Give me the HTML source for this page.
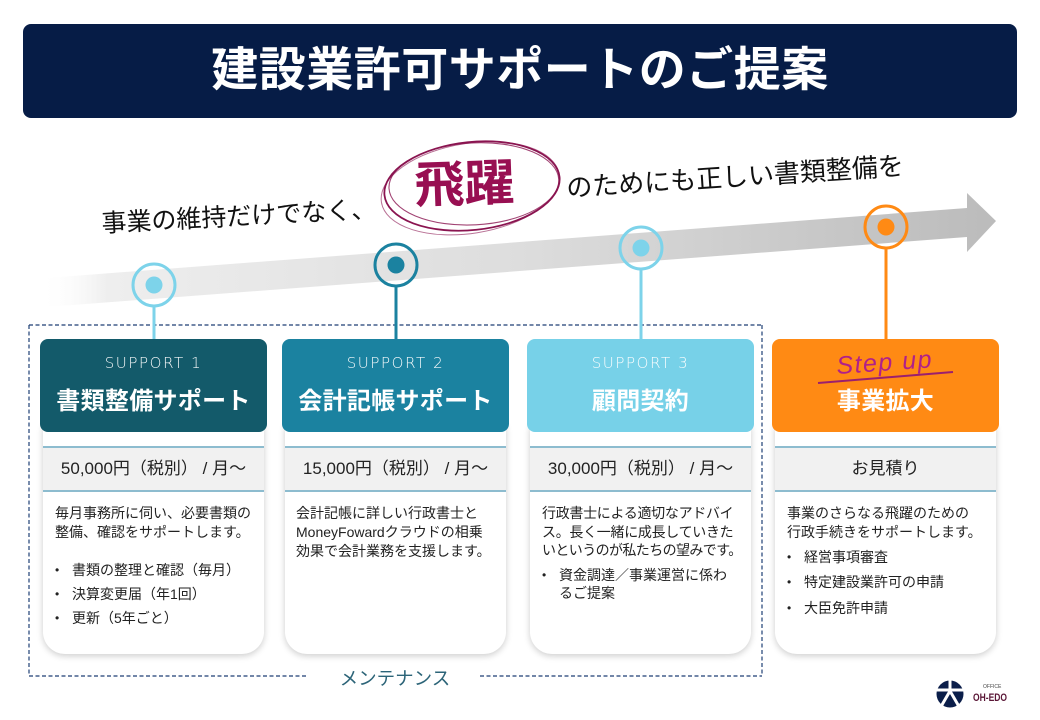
<!DOCTYPE html>
<html lang="ja">
<head>
<meta charset="utf-8">
<style>
  html,body{margin:0;padding:0;}
  body{width:1040px;height:720px;position:relative;overflow:hidden;background:#fff;
       font-family:"Liberation Sans","Noto Sans CJK JP",sans-serif;color:#222;}
  .abs{position:absolute;}
  .title{left:23px;top:24px;width:994px;height:94px;background:#061c46;border-radius:8px;
         color:#fff;font-weight:bold;font-size:47px;letter-spacing:0.5px;text-align:center;line-height:92px;}
  .body{position:absolute;top:425px;height:229px;background:#fff;border-radius:0 0 22px 22px;
        box-shadow:0 2px 7px rgba(0,0,0,0.20);}
  .band{position:absolute;left:0;right:0;top:21px;height:42px;background:#f1f1f1;
        border-top:2px solid #8dbccf;border-bottom:2px solid #8dbccf;
        font-size:17px;text-align:center;line-height:42px;color:#222;white-space:nowrap;}
  .head{position:absolute;top:339px;width:227px;height:93px;border-radius:8px;color:#fff;text-align:center;}
  .sup{position:absolute;left:0;right:0;top:14px;font-size:15px;letter-spacing:1.6px;font-weight:300;
       font-family:"DejaVu Sans","Liberation Sans",sans-serif;line-height:20px;opacity:.95;}
  .htitle{position:absolute;left:0;right:0;top:48px;font-size:24px;font-weight:bold;line-height:30px;letter-spacing:0.3px;}
  .ln{position:absolute;font-size:14px;line-height:20px;height:20px;white-space:nowrap;color:#222;}
  .dot{position:absolute;font-size:12px;line-height:20px;height:20px;color:#222;}
</style>
</head>
<body>

<div class="abs title">建設業許可サポートのご提案</div>

<svg class="abs" style="left:0;top:0" width="1040" height="720" viewBox="0 0 1040 720">
  <defs>
    <linearGradient id="g" gradientUnits="userSpaceOnUse" x1="40" y1="0" x2="1000" y2="0">
      <stop offset="0" stop-color="#ffffff" stop-opacity="0"/>
      <stop offset="0.07" stop-color="#eeeeee"/>
      <stop offset="0.5" stop-color="#dddddd"/>
      <stop offset="1" stop-color="#bbbbbb"/>
    </linearGradient>
  </defs>
  <!-- arrow band -->
  <polygon points="40,278.5 967,208 967,193 996,221 967,252 967,237 40,307.5" fill="url(#g)"/>

  <!-- dashed maintenance frame -->
  <g fill="none" stroke="#1f3f75" stroke-width="1.2" stroke-dasharray="4 2.5">
    <line x1="29" y1="325" x2="762" y2="325"/>
    <line x1="29" y1="325" x2="29" y2="676"/>
    <line x1="762" y1="325" x2="762" y2="676"/>
    <line x1="29" y1="676" x2="308" y2="676"/>
    <line x1="480" y1="676" x2="762" y2="676"/>
  </g>
  <text x="395" y="685" text-anchor="middle" font-size="18.5" fill="#2c6478"
        font-family="Liberation Sans, Noto Sans CJK JP, sans-serif">メンテナンス</text>

  <!-- connectors -->
  <g stroke-width="3" fill="none">
    <line x1="154" y1="307" x2="154" y2="340" stroke="#7dd3ea"/>
    <circle cx="154" cy="285" r="21" stroke="#7dd3ea"/>
    <line x1="396" y1="287" x2="396" y2="340" stroke="#1b82a0"/>
    <circle cx="396" cy="265" r="21" stroke="#1b82a0"/>
    <line x1="641" y1="270" x2="641" y2="340" stroke="#7dd3ea"/>
    <circle cx="641" cy="248" r="21" stroke="#7dd3ea"/>
    <line x1="886" y1="249" x2="886" y2="340" stroke="#ff8a14"/>
    <circle cx="886" cy="227" r="21" stroke="#ff8a14"/>
  </g>
  <circle cx="154" cy="285" r="8.5" fill="#7dd3ea"/>
  <circle cx="396" cy="265" r="8.5" fill="#1b82a0"/>
  <circle cx="641" cy="248" r="8.5" fill="#7dd3ea"/>
  <circle cx="886" cy="227" r="8.5" fill="#ff8a14"/>

  <!-- headline -->
  <text x="102" y="232" font-size="25" fill="#111" transform="rotate(-3 102 232)"
        font-family="Liberation Sans, Noto Sans CJK JP, sans-serif">事業の維持だけでなく、</text>
  <text x="567" y="197" font-size="26" fill="#111" transform="rotate(-3.8 567 197)"
        font-family="Liberation Sans, Noto Sans CJK JP, sans-serif">のためにも正しい書類整備を</text>

  <!-- sketch ellipse -->
  <g fill="none" stroke="#8a1450">
    <ellipse cx="472" cy="186" rx="88" ry="44" transform="rotate(-6 472 186)" stroke-width="1.8"/>
    <ellipse cx="474" cy="184" rx="85" ry="41" transform="rotate(-3 472 186)" stroke-width="1.1" opacity="0.8"/>
    <ellipse cx="470" cy="188" rx="90" ry="45" transform="rotate(-9 472 186)" stroke-width="1" opacity="0.6"/>
  </g>
  <text x="415" y="203" font-size="50" font-weight="bold" fill="#980f52" transform="rotate(-2 415 203)"
        font-family="Liberation Sans, Noto Sans CJK JP, sans-serif">飛躍</text>

  <!-- logo -->
  <circle cx="950" cy="694" r="13.5" fill="#0b1e4a"/>
  <g stroke="#fff" stroke-width="3" stroke-linecap="butt">
    <line x1="935" y1="690" x2="965" y2="690"/>
    <line x1="950" y1="679" x2="950" y2="691"/>
    <line x1="950" y1="691" x2="939" y2="710"/>
    <line x1="950" y1="691" x2="961" y2="710"/>
  </g>
  <text x="983" y="688" font-size="5" fill="#444" font-family="Liberation Sans, sans-serif">OFFICE</text>
  <text x="973" y="701" font-size="11" font-weight="bold" fill="#5a1636" font-family="Liberation Sans, sans-serif" textLength="34" lengthAdjust="spacingAndGlyphs">OH-EDO</text>
</svg>

<!-- Card 1 -->
<div class="body" style="left:43px;width:221px;">
  <div class="band">50,000円（税別） / 月～</div>
</div>
<div class="head" style="left:40px;background:#135a6a;">
  <div class="sup">SUPPORT 1</div>
  <div class="htitle">書類整備サポート</div>
</div>
<div class="ln" style="left:55px;top:503px;">毎月事務所に伺い、必要書類の</div>
<div class="ln" style="left:55px;top:522px;">整備、確認をサポートします。</div>
<div class="dot" style="left:55px;top:560px;">•</div>
<div class="ln" style="left:72px;top:560px;">書類の整理と確認（毎月）</div>
<div class="dot" style="left:55px;top:584px;">•</div>
<div class="ln" style="left:72px;top:584px;">決算変更届（年1回）</div>
<div class="dot" style="left:55px;top:608px;">•</div>
<div class="ln" style="left:72px;top:608px;">更新（5年ごと）</div>

<!-- Card 2 -->
<div class="body" style="left:285px;width:221px;">
  <div class="band">15,000円（税別） / 月～</div>
</div>
<div class="head" style="left:282px;background:#1b82a0;">
  <div class="sup">SUPPORT 2</div>
  <div class="htitle">会計記帳サポート</div>
</div>
<div class="ln" style="left:296px;top:503px;">会計記帳に詳しい行政書士と</div>
<div class="ln" style="left:296px;top:522px;">MoneyFowardクラウドの相乗</div>
<div class="ln" style="left:296px;top:541px;">効果で会計業務を支援します。</div>

<!-- Card 3 -->
<div class="body" style="left:530px;width:221px;">
  <div class="band">30,000円（税別） / 月～</div>
</div>
<div class="head" style="left:527px;background:#77d1e8;">
  <div class="sup">SUPPORT 3</div>
  <div class="htitle">顧問契約</div>
</div>
<div class="ln" style="left:542px;top:503px;letter-spacing:-0.3px;">行政書士による適切なアドバイ</div>
<div class="ln" style="left:542px;top:522px;letter-spacing:-0.3px;">ス。長く一緒に成長していきた</div>
<div class="ln" style="left:542px;top:540px;letter-spacing:-0.6px;">いというのが私たちの望みです。</div>
<div class="dot" style="left:542px;top:565px;">•</div>
<div class="ln" style="left:559px;top:565px;">資金調達／事業運営に係わ</div>
<div class="ln" style="left:559px;top:583px;">るご提案</div>

<!-- Card 4 -->
<div class="body" style="left:775px;width:221px;">
  <div class="band">お見積り</div>
</div>
<div class="head" style="left:772px;background:#ff8a14;">
  <div class="htitle">事業拡大</div>
</div>
<svg class="abs" style="left:0;top:0;pointer-events:none" width="1040" height="720" viewBox="0 0 1040 720">
  <text x="837" y="374" font-size="25" font-style="italic" fill="#b0208a" letter-spacing="1.5"
        transform="rotate(-4 837 374)" font-family="Liberation Sans, sans-serif">Step up</text>
  <line x1="818" y1="383" x2="953" y2="372" stroke="#9b1f6e" stroke-width="2"/>
</svg>
<div class="ln" style="left:787px;top:503px;">事業のさらなる飛躍のための</div>
<div class="ln" style="left:787px;top:522px;">行政手続きをサポートします。</div>
<div class="dot" style="left:787px;top:547px;">•</div>
<div class="ln" style="left:804px;top:547px;">経営事項審査</div>
<div class="dot" style="left:787px;top:572px;">•</div>
<div class="ln" style="left:804px;top:572px;">特定建設業許可の申請</div>
<div class="dot" style="left:787px;top:598px;">•</div>
<div class="ln" style="left:804px;top:598px;">大臣免許申請</div>

</body>
</html>
